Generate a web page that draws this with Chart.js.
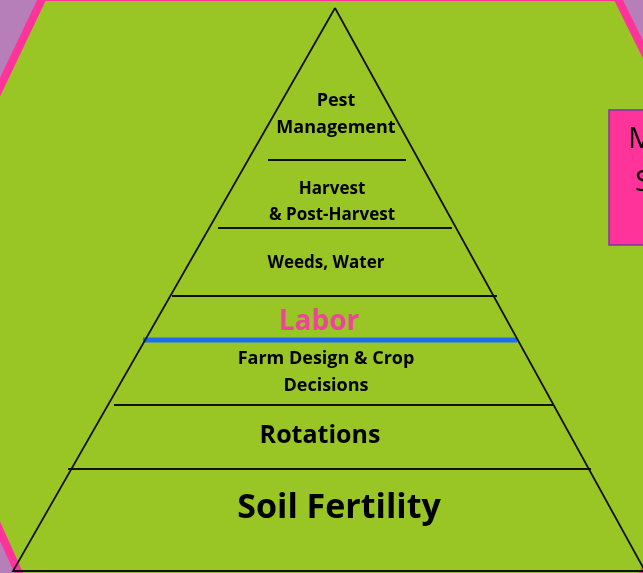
<!DOCTYPE html>
<html>
<head>
<meta charset="utf-8">
<script src="https://cdn.jsdelivr.net/npm/chart.js@4/dist/chart.umd.min.js"></script>
<style>
  html, body { margin: 0; padding: 0; background: #b67fba; }
  canvas { display: block; }
</style>
</head>
<body>
<canvas id="pyramid" width="643" height="573"></canvas>
<script>
// pyramid levels, top to bottom
const layerLabels = [
  ['Pest', 'Management'],
  ['Harvest', '& Post-Harvest'],
  ['Weeds, Water'],
  ['Labor'],
  ['Farm Design & Crop', 'Decisions'],
  ['Rotations'],
  ['Soil Fertility']
]
const labelX = [336, 332, 326, 319, 326, 320, 339]
const labelY = [101, 189, 263, 322, 359, 436, 508]

// divider lines between levels
const dividerY = [160, 228, 296, 340, 405, 469]
const dividerLeft = [268, 218, 172, 143, 114, 68]
const dividerRight = [406, 452, 497, 517, 553, 591]

// outer triangle
const apex = { x: 335, y: 8 }
const baseLeft = { x: 13, y: 571 }
const baseRight = { x: 645, y: 571 }

// background hexagon and the side box
const hexagon = [[43, -3], [617, -3], [770, 306], [640, 580], [22, 580], [-103, 303]]
const sideBox = { x0: 609, y0: 110, x1: 660, y1: 245 }
const sideText = ['M', 'S']

const GREEN = '#99c624'
const PINK = '#ff3399'

const dividerSets = dividerY.map((y, i) => ({
  data: [{ x: dividerLeft[i], y: y }, { x: dividerRight[i], y: y }],
  showLine: true,
  borderColor: i === 3 ? '#1a6ff0' : '#111',
  borderWidth: i === 3 ? 5 : 1.8,
  pointRadius: 0
}))

const backdrop = {
  id: 'backdrop',
  beforeDraw(chart) {
    const { ctx, scales: { x, y } } = chart
    ctx.save()
    ctx.fillStyle = '#b67fba'
    ctx.fillRect(0, 0, chart.width, chart.height)
    ctx.beginPath()
    hexagon.forEach(([px, py], i) => {
      const X = x.getPixelForValue(px), Y = y.getPixelForValue(py)
      i ? ctx.lineTo(X, Y) : ctx.moveTo(X, Y)
    })
    ctx.closePath()
    ctx.fillStyle = GREEN
    ctx.fill()
    ctx.lineWidth = 8
    ctx.strokeStyle = PINK
    ctx.stroke()

    const bx = x.getPixelForValue(sideBox.x0), by = y.getPixelForValue(sideBox.y0)
    const bw = x.getPixelForValue(sideBox.x1) - bx, bh = y.getPixelForValue(sideBox.y1) - by
    ctx.fillStyle = PINK
    ctx.fillRect(bx, by, bw, bh)
    ctx.lineWidth = 1.5
    ctx.strokeStyle = '#7a3aa0'
    ctx.strokeRect(bx, by, bw, bh)
    ctx.fillStyle = '#000'
    ctx.font = '30px "Open Sans"'
    ctx.textBaseline = 'middle'
    ctx.textAlign = 'left'
    ctx.fillText(sideText[0], x.getPixelForValue(628), y.getPixelForValue(139))
    ctx.fillText(sideText[1], x.getPixelForValue(635), y.getPixelForValue(182))
    ctx.restore()
  }
}

const labels = {
  id: 'labels',
  afterDatasetsDraw(chart) {
    const { ctx, scales: { x, y } } = chart
    const sizes = [18, 17, 17, 28, 18, 25, 34]
    const lineGap = [27, 26, 0, 0, 27, 0, 0]
    ctx.save()
    ctx.textAlign = 'center'
    ctx.textBaseline = 'middle'
    layerLabels.forEach((lines, i) => {
      ctx.font = 'bold ' + sizes[i] + 'px "Open Sans"'
      ctx.fillStyle = i === 3 ? '#f0449a' : '#000'
      lines.forEach((t, j) => {
        ctx.fillText(t, x.getPixelForValue(labelX[i]), y.getPixelForValue(labelY[i] + j * lineGap[i]))
      })
    })
    ctx.restore()
  }
}

new Chart(document.getElementById('pyramid'), {
  type: 'scatter',
  data: {
    datasets: [
      {
        data: [apex, baseLeft, baseRight, apex],
        showLine: true,
        borderColor: '#111',
        borderWidth: 1.8,
        pointRadius: 0
      },
      ...dividerSets
    ]
  },
  options: {
    responsive: false,
    animation: false,
    layout: { padding: 0 },
    plugins: { legend: { display: false }, tooltip: { enabled: false } },
    scales: {
      x: { type: 'linear', min: 0, max: 643, display: false },
      y: { type: 'linear', min: 0, max: 573, reverse: true, display: false }
    }
  },
  plugins: [backdrop, labels]
})
</script>
</body>
</html>
